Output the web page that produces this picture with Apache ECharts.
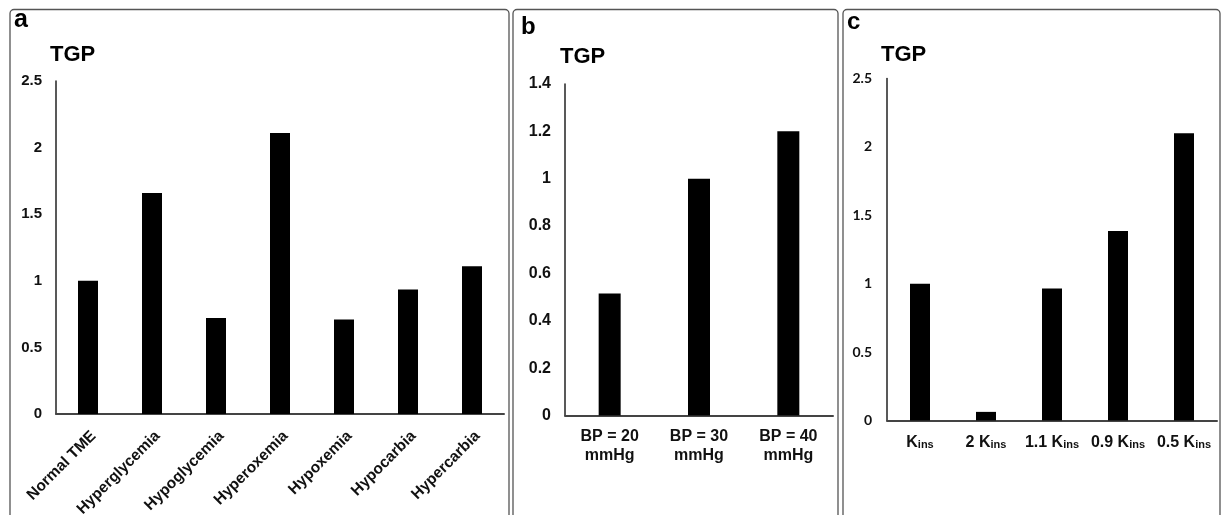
<!DOCTYPE html>
<html>
<head>
<meta charset="utf-8">
<script src="https://cdn.jsdelivr.net/npm/echarts@6/dist/echarts.min.js"></script>
<style>
  html, body { margin: 0; padding: 0; background: #fff; }
  #chart { width: 1226px; height: 515px; }
</style>
</head>
<body>
<div id="chart"></div>
<script>
// panel a: 肿瘤微环境条件
const catA = ['Normal TME', 'Hyperglycemia', 'Hypoglycemia', 'Hyperoxemia', 'Hypoxemia', 'Hypocarbia', 'Hypercarbia']
const valA = [1.0, 1.66, 0.72, 2.11, 0.71, 0.935, 1.11]
// panel b: 血压
const catB = ['BP = 20\nmmHg', 'BP = 30\nmmHg', 'BP = 40\nmmHg']
const valB = [0.515, 1.0, 1.2]
// panel c: 胰岛素常数
const catC = ['Kins', '2 Kins', '1.1 Kins', '0.9 Kins', '0.5 Kins']
const valC = [1.0, 0.063, 0.965, 1.385, 2.1]

const arial = '"Liberation Sans", Arial, sans-serif'
const axisText = { color: '#111', fontFamily: arial, fontWeight: 'bold' }

// 通用的 y 轴
const yAxis = (gridIndex, max, interval, labelOpt) => ({
  type: 'value',
  gridIndex,
  min: 0,
  max,
  interval,
  axisLine: { show: true, lineStyle: { color: '#222', width: 1.5 } },
  axisTick: { show: false },
  splitLine: { show: false },
  axisLabel: Object.assign({ margin: 14 }, axisText, labelOpt)
})

// 通用的 x 轴
const xAxis = (gridIndex, data, labelOpt) => ({
  type: 'category',
  gridIndex,
  data,
  axisLine: { lineStyle: { color: '#444', width: 2 } },
  axisTick: { show: false },
  axisLabel: Object.assign({ interval: 0 }, axisText, labelOpt)
})

const bar = (idx, data, width) => ({
  type: 'bar',
  xAxisIndex: idx,
  yAxisIndex: idx,
  data,
  barWidth: width,
  itemStyle: { color: '#000' },
  silent: true
})

// 面板边框
const frame = (x, w) => ({
  type: 'rect',
  shape: { x, y: 9.5, width: w, height: 520, r: 4 },
  style: { fill: 'none', stroke: '#555', lineWidth: 1.3 },
  silent: true
})
const txt = (text, x, y, size) => ({
  type: 'text',
  x,
  y,
  style: { text, fontSize: size, fontWeight: 'bold', fontFamily: arial, fill: '#000', verticalAlign: 'middle' },
  silent: true
})

const chart = echarts.init(document.getElementById('chart'), null, { renderer: 'canvas' })
chart.setOption({
  animation: false,
  backgroundColor: '#fff',
  grid: [
    { left: 56, top: 81, width: 448, height: 333, outerBoundsMode: 'none' },
    { left: 565, top: 84, width: 268, height: 331.5, outerBoundsMode: 'none' },
    { left: 887, top: 78.5, width: 330, height: 342, outerBoundsMode: 'none' }
  ],
  xAxis: [
    xAxis(0, catA, { rotate: 45, fontSize: 15.5, margin: 14, verticalAlign: 'top' }),
    xAxis(1, catB, { fontSize: 16, lineHeight: 19, margin: 12 }),
    xAxis(2, catC, {
      margin: 12,
      formatter: (v) => v.replace(/^(.*)K(ins)$/, '{a|$1K}{s|$2}'),
      rich: {
        a: { fontSize: 16, fontWeight: 'bold', fontFamily: arial, color: '#111', lineHeight: 18, verticalAlign: 'bottom' },
        s: { fontSize: 11, fontWeight: 'bold', fontFamily: arial, color: '#111', lineHeight: 12, verticalAlign: 'bottom' }
      }
    })
  ],
  yAxis: [
    yAxis(0, 2.5, 0.5, { fontSize: 15 }),
    yAxis(1, 1.4, 0.2, { fontSize: 16, margin: 14 }),
    yAxis(2, 2.5, 0.5, { fontSize: 14, fontFamily: 'Lato, "Open Sans", sans-serif', margin: 15 })
  ],
  series: [bar(0, valA, 20), bar(1, valB, 22), bar(2, valC, 20)],
  graphic: [
    frame(10, 499),
    frame(513, 325),
    frame(843, 377),
    txt('a', 14, 20, 25),
    txt('TGP', 50, 55, 22),
    txt('b', 521, 27, 24),
    txt('TGP', 560, 56.5, 22),
    txt('c', 847, 22, 24),
    txt('TGP', 881, 55, 22)
  ]
})
</script>
</body>
</html>
